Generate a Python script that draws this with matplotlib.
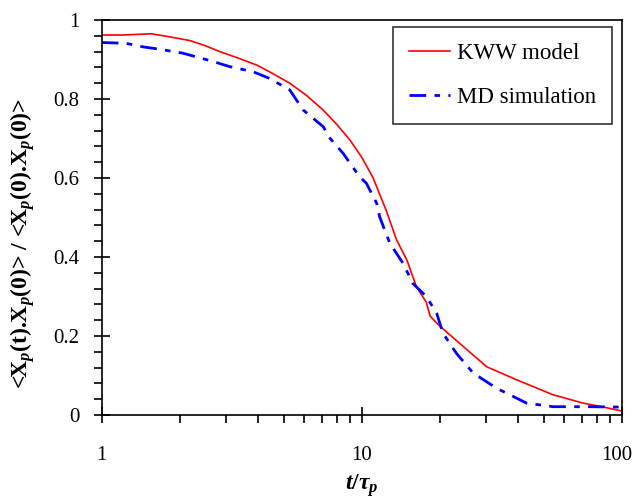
import numpy as np
import matplotlib.pyplot as plt
import matplotlib.transforms as mtransforms
from matplotlib.ticker import LogLocator, MultipleLocator, FixedLocator

#------- data

t_kww = [1.0, 1.2, 1.55, 1.8, 2.18, 2.5, 2.84, 3.3, 3.94, 4.5, 5.28, 6.1, 7.1,
         8.0, 9.0, 10.0, 11.05, 12.45, 13.6, 14.9, 16.2, 17.7, 18.3, 20.0,
         23.8, 30.2, 39.4, 54.4, 71.0, 85.0, 100.0]
v_kww = [0.962, 0.962, 0.965, 0.958, 0.948, 0.935, 0.92, 0.905, 0.886, 0.866,
         0.84, 0.81, 0.772, 0.736, 0.696, 0.652, 0.600, 0.515, 0.443, 0.392,
         0.325, 0.285, 0.25, 0.224, 0.181, 0.122, 0.089, 0.051, 0.03, 0.02,
         0.01]

t_md = [1.0, 1.24, 1.44, 1.67, 2.05, 2.68, 3.1, 3.82, 4.42, 5.28, 5.95, 7.1,
        7.55, 8.48, 9.8, 10.4, 11.4, 11.7, 12.8, 14.4, 15.7, 17.7, 19.4,
        20.5, 23.1, 26.8, 32.9, 43.0, 54.4, 75.0, 100.0]
v_md = [0.943, 0.941, 0.932, 0.926, 0.916, 0.895, 0.882, 0.869, 0.852, 0.823,
        0.772, 0.73, 0.70, 0.662, 0.603, 0.587, 0.536, 0.502, 0.435, 0.384,
        0.333, 0.30, 0.257, 0.207, 0.156, 0.106, 0.068, 0.03, 0.021, 0.021,
        0.02]

#------- plot

plt.rcParams['font.family'] = 'Liberation Serif'
plt.rcParams['mathtext.fontset'] = 'custom'
plt.rcParams['mathtext.rm'] = 'Liberation Serif:bold'
plt.rcParams['mathtext.it'] = 'Liberation Serif:italic:bold'
plt.rcParams['mathtext.bf'] = 'Liberation Serif:bold'

fig = plt.figure(figsize=(6.36, 5), dpi=100)
ax = fig.add_axes([0.160, 0.17, 0.818, 0.79])

ax.plot(t_kww, v_kww, color='red', lw=1.2, label='KWW model')
ax.plot(t_md, v_md, color='blue', lw=2.0, dashes=(6, 3, 2, 3),
        label='MD simulation')

ax.set_xscale('log')
ax.set_xlim(1, 100)
ax.set_ylim(0, 1)
ax.xaxis.set_major_locator(FixedLocator([1, 10, 100]))
ax.xaxis.set_minor_locator(LogLocator(base=10, subs=np.arange(2, 10)))
ax.xaxis.set_minor_formatter(plt.NullFormatter())
ax.set_xticklabels(['1', '10', '100'])
ax.yaxis.set_minor_locator(MultipleLocator(0.04))
ax.set_yticks([0, 0.2, 0.4, 0.6, 0.8, 1.0])
ax.set_yticklabels(['0', '0.2', '0.4', '0.6', '0.8', '1'])

ax.tick_params(axis='x', which='major', direction='inout', length=12,
               width=1.2, labelsize=15, pad=16)
ax.tick_params(axis='x', which='minor', direction='out', length=6, width=1.2)
ax.tick_params(axis='y', which='major', direction='inout', length=12,
               width=1.2, labelsize=15, pad=10)
ax.tick_params(axis='y', which='minor', direction='out', length=6, width=1.2)
for s in ax.spines.values():
    s.set_linewidth(1.2)

# keep "100" inside the canvas
lab = ax.get_xticklabels()[-1]
lab.set_transform(lab.get_transform() +
                  mtransforms.ScaledTranslation(-5 / 100, 0, fig.dpi_scale_trans))

ax.set_xlabel(r'$t/\tau_p$', fontsize=17)
ax.xaxis.set_label_coords(0.5, -0.145)
ax.set_ylabel(r'<X$_p$(t).X$_p$(0)> / <X$_p$(0).X$_p$(0)>', fontsize=17,
              fontweight='bold')
ax.yaxis.set_label_coords(-0.125, 0.435)

leg = ax.legend(loc='upper right', bbox_to_anchor=(0.981, 0.982),
                borderaxespad=0, fontsize=16.5, frameon=True, fancybox=False,
                edgecolor='black', handlelength=1.8, handletextpad=0.3,
                borderpad=0.7, labelspacing=1.0)
leg.get_frame().set_linewidth(1.2)

plt.savefig('out.png', dpi=100)
